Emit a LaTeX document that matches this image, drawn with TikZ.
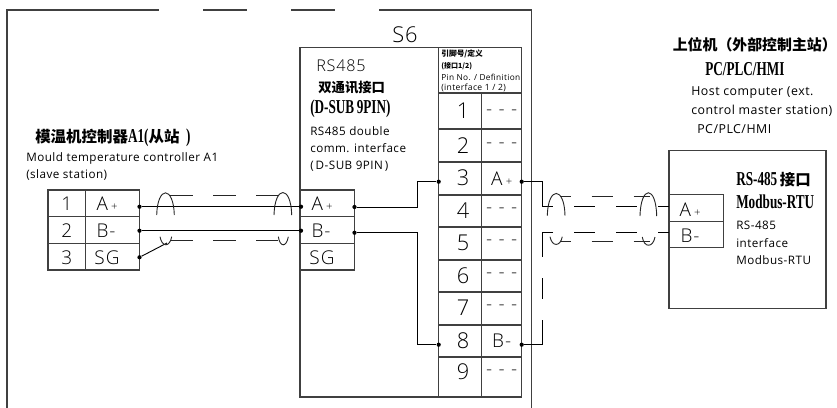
\documentclass[tikz,border=0pt]{standalone}
\usepackage{graphicx}
\usepackage{fontspec}
\setmainfont{Open Sans}[UprightFont=* Light,LetterSpace=5]
\newfontfamily\cadfont{Open Sans}[LetterSpace=4]
\newfontfamily\cjkfont{Noto Sans CJK SC}[BoldFont=Noto Sans CJK SC Black]
\newfontfamily\headfont{Liberation Serif}
\tikzset{
  cadline/.style={black!75,line width=0.75pt},
  wire/.style={black,line width=0.65pt},
  shield/.style={black!85,line width=0.65pt},
  dot/.style={circle,fill=black,inner sep=0pt,minimum size=3pt},
  smalltext/.style={anchor=west,font=\cadfont\fontsize{8.3}{10}\selectfont},
  midtext/.style={font=\fontsize{13.5}{15}\selectfont},
  pintext/.style={font=\fontsize{15.5}{17}\selectfont},
  headtext/.style={anchor=west,font=\fontsize{11}{12}\bfseries\selectfont},
}
\newcommand{\plus}{\,{\fontsize{8}{8}\selectfont+}}
\newcommand{\hd}[1]{{\headfont\fontsize{14}{15}\selectfont\scalebox{0.67}[1]{#1}}}
\begin{document}
\begin{tikzpicture}[x=0.025cm,y=0.025cm]
    \tikzstyle{every node}+=[inner sep=0pt]
    \useasboundingbox (0,0) rectangle (837,-408);
    \draw [cadline] (7,-408) -- (7,-10) -- (159,-10);
    \draw [cadline] (203,-10) -- (247,-10);
    \draw [cadline] (291,-10) -- (335,-10);
    \draw [cadline] (379,-10) -- (531.5,-10) -- (531.5,-408);
    \draw [cadline] (300,-47.5) rectangle (521.7,-397);
    \draw [cadline] (669,-150.7) rectangle (826,-308.3);
    \draw [cadline] (48,-190) rectangle (139.5,-270);
    \draw [cadline] (85.5,-190) -- (85.5,-270);
    \draw [cadline] (48,-216.7) -- (139.5,-216.7);
    \draw [cadline] (48,-243.5) -- (139.5,-243.5);
    \draw [cadline] (300.5,-190) rectangle (354.5,-270);
    \draw [cadline] (300.5,-216.7) -- (354.5,-216.7);
    \draw [cadline] (300.5,-243.3) -- (354.5,-243.3);
    \draw [cadline] (669,-194.3) rectangle (723.3,-247.3);
    \draw [cadline] (669,-221.7) -- (723.3,-221.7);
    \draw [cadline] (438.7,-47.5) -- (438.7,-397);
    \draw [cadline] (481.5,-93) -- (481.5,-397);
    \foreach \y in {93,129,162,195,227,260,292,325,357}
        \draw [cadline] (438.7,-\y) -- (521.7,-\y);
    \node [headtext] (a1title) at (35,-138) {{\cjkfont 模温机控制器}\hd{A1(}{\cjkfont 从站}\hd{~~)}};
    \node [smalltext] (a1en) at (26,-158) {Mould temperature controller A1};
    \node [smalltext] (a1enb) at (26,-175) {(slave station)};
    \node [pintext,anchor=west] (s6label) at (392,-35) {S6};
    \node [anchor=west,font=\fontsize{11.5}{13}\selectfont] (rsa) at (316,-66) {RS485};
    \node [headtext,font=\fontsize{9.5}{12}\bfseries\selectfont] (rsb) at (318,-88) {\cjkfont 双通讯接口};
    \node [headtext] (rsc) at (310,-109) {\hd{(D-SUB}\,\hd{9PIN)}};
    \node [smalltext] (rsd) at (310,-131) {RS485 double};
    \node [smalltext] (rse) at (310,-148) {comm. interface};
    \node [smalltext] (rsf) at (310,-166) {(\,D-SUB 9PIN\,)};
    \node [anchor=west,font=\fontsize{5.5}{6}\bfseries\selectfont] (pina) at (441,-54) {\cjkfont 引脚号/定义};
    \node [anchor=west,font=\fontsize{5}{6}\bfseries\selectfont] (pinb) at (441,-66) {\cjkfont (接口1/2)};
    \node [anchor=west,font=\cadfont\fontsize{5.9}{7}\selectfont] (pinc) at (441,-77) {Pin No. / Definition};
    \node [anchor=west,font=\cadfont\fontsize{6.1}{7}\selectfont] (pind) at (441,-88) {(interface 1 / 2)};
    \node [pintext] (pin1) at (463,-111) {1};
    \node [pintext] (pin2) at (463,-146) {2};
    \node [pintext] (pin3) at (463,-178) {3};
    \node [pintext] (pin4) at (463,-211) {4};
    \node [pintext] (pin5) at (463,-243) {5};
    \node [pintext] (pin6) at (463,-276) {6};
    \node [pintext] (pin7) at (463,-308) {7};
    \node [pintext] (pin8) at (463,-341) {8};
    \node [pintext] (pin9) at (463,-372) {9};
    \node [midtext] (def1) at (501.7,-113) {-\,\,-\,\,-};
    \node [midtext] (def2) at (501.7,-146) {-\,\,-\,\,-};
    \node [midtext] (def3) at (501.7,-179) {A\plus};
    \node [midtext] (def4) at (501.7,-211) {-\,\,-\,\,-};
    \node [midtext] (def5) at (501.7,-243) {-\,\,-\,\,-};
    \node [midtext] (def6) at (501.7,-276) {-\,\,-\,\,-};
    \node [midtext] (def7) at (501.7,-308) {-\,\,-\,\,-};
    \node [midtext] (def8) at (501.7,-341) {B-};
    \node [midtext] (def9) at (501.7,-373) {-\,\,-\,\,-};
    \node [midtext] (a1n1) at (66.7,-204) {1};
    \node [midtext] (a1n2) at (66.7,-231) {2};
    \node [midtext] (a1n3) at (66.7,-258) {3};
    \node [midtext] (a1ta) at (107,-204) {A\plus};
    \node [midtext] (a1tb) at (106,-231) {B-};
    \node [midtext] (a1tc) at (107,-258) {SG};
    \node [midtext] (s6ta) at (322,-204) {A\plus};
    \node [midtext] (s6tb) at (321,-231) {B-};
    \node [midtext] (s6tc) at (322,-258) {SG};
    \node [midtext] (hostta) at (690,-210) {A\plus};
    \node [midtext] (hosttb) at (690,-236) {B-};
    \node [headtext,font=\fontsize{10.6}{12}\bfseries\selectfont] (hosttitle) at (672.5,-45) {\cjkfont 上位机（外部控制主站）};
    \node [headtext] (hostpc) at (705,-69) {\hd{PC/PLC/HMI}};
    \node [smalltext,font=\cadfont\fontsize{8.8}{10}\selectfont] (hostena) at (691,-93) {Host computer (ext.};
    \node [smalltext,font=\cadfont\fontsize{8.8}{10}\selectfont] (hostenb) at (691,-111) {control master station)};
    \node [smalltext,font=\cadfont\fontsize{8.8}{10}\selectfont] (hostenc) at (697,-129) {PC/PLC/HMI};
    \node [headtext] (modtitle) at (736,-180) {\hd{RS-485}\,{\cjkfont 接口}};
    \node [headtext] (modrtu) at (736,-202) {\hd{Modbus-RTU}};
    \node [smalltext] (moda) at (736,-225) {RS-485};
    \node [smalltext] (modb) at (736,-243) {interface};
    \node [smalltext] (modc) at (736,-260) {Modbus-RTU};
    \node [dot] (a1a) at (139.5,-206.7) {};
    \node [dot] (a1b) at (139.5,-230.7) {};
    \node [dot] (a1sg) at (139.5,-257.3) {};
    \node [dot] (s6a) at (301,-206.7) {};
    \node [dot] (s6b) at (301,-230.7) {};
    \node [dot] (s6ao) at (354.5,-207) {};
    \node [dot] (s6bo) at (354.5,-232.7) {};
    \node [dot] (p3l) at (438.7,-181.7) {};
    \node [dot] (p8l) at (438.7,-344.7) {};
    \node [dot] (p3r) at (521.7,-181.7) {};
    \node [dot] (p8r) at (521.7,-344.7) {};
    \coordinate (hosta) at (669,-206.7);
    \coordinate (hostb) at (669,-232.3);
    \coordinate (busa) at (542.3,-206.7);
    \coordinate (busb) at (542.3,-232.3);
    \coordinate (dasha) at (553,-206.7);
    \coordinate (dashb) at (553,-232.3);
    \coordinate (sgend) at (167,-243);
    \coordinate (vera) at (542.3,-257.3);
    \coordinate (verb) at (542.3,-278);
    \coordinate (verc) at (542.3,-299);
    \coordinate (verd) at (542.3,-320);
    \coordinate (lua) at (170,-195.7);
    \coordinate (lub) at (278,-195.7);
    \coordinate (lla) at (170,-240.7);
    \coordinate (llb) at (278,-240.7);
    \coordinate (rua) at (560,-196);
    \coordinate (rub) at (650,-196);
    \coordinate (rla) at (560,-241.3);
    \coordinate (rlb) at (650,-241.3);
    \draw [wire] (a1a) -- (s6a);
    \draw [wire] (a1b) -- (s6b);
    \draw [wire] (a1sg) -- (sgend);
    \draw [wire] (s6ao) -| (417.3,-194) |- (p3l);
    \draw [wire] (s6bo) -| (417.3,-300) |- (p8l);
    \draw [wire] (p3r) -| (busa) -- (dasha);
    \draw [wire,dash pattern=on 14.94pt off 14.94pt,dash phase=14.94pt] (dasha) -- (hosta);
    \draw [wire,dash pattern=on 14.94pt off 14.94pt,dash phase=14.94pt] (dashb) -- (hostb);
    \draw [wire] (dashb) -- (busb) -- (vera);
    \draw [wire] (verb) -- (verc);
    \draw [wire] (verd) |- (p8r);
    \draw [shield,dash pattern=on 16pt off 14.6pt] (lua) -- (lub);
    \draw [shield,dash pattern=on 16pt off 14.6pt] (lla) -- (llb);
    \draw [shield,dash pattern=on 14.94pt off 14.94pt,dash phase=7.33pt] (rua) -- (rub);
    \draw [shield,dash pattern=on 14.94pt off 14.94pt,dash phase=7.33pt] (rla) -- (rlb);
    \draw [shield] (156.7,-215) .. controls (157.5,-185.5) and (173.5,-185.5) .. (174.3,-215);
    \draw [shield] (160,-236.7) .. controls (162,-247.5) and (169.7,-247.5) .. (171.7,-236.7);
    \draw [shield] (274,-215) .. controls (274.8,-185) and (291,-185) .. (291.7,-215);
    \draw [shield] (278.3,-236.7) .. controls (280,-247.5) and (286.5,-247.5) .. (288.3,-236.7);
    \draw [shield] (547.3,-215.7) .. controls (548,-186) and (564.5,-186) .. (565,-215.7);
    \draw [shield] (550,-236.7) .. controls (552,-247) and (560.3,-247) .. (562.3,-236.7);
    \draw [shield] (640,-216) .. controls (640.8,-185) and (656,-185) .. (656.7,-216);
    \draw [shield] (642.3,-237) .. controls (644,-248) and (653,-248) .. (655,-237);
\end{tikzpicture}
\end{document}
